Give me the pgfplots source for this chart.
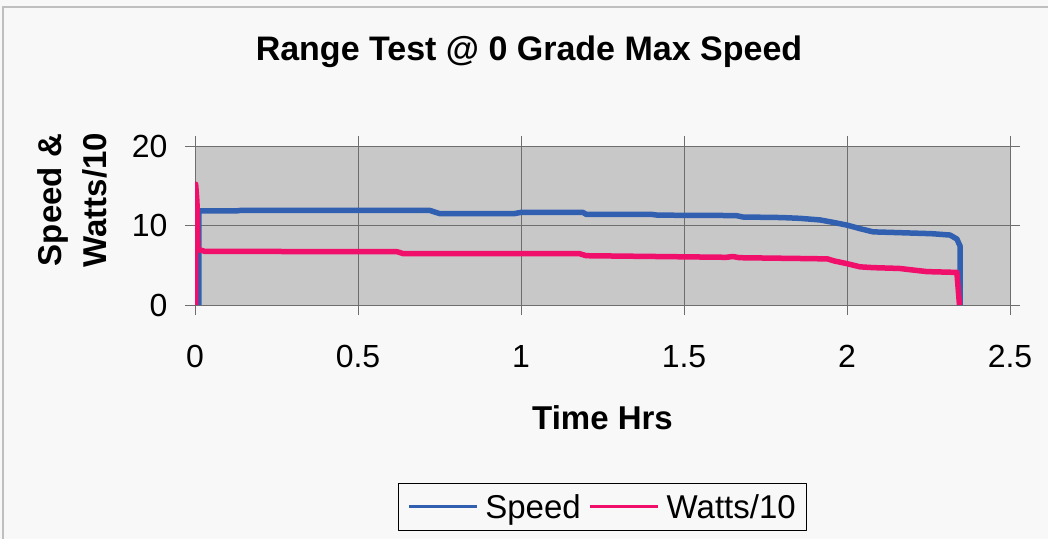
\documentclass[border=0pt]{standalone}
\usepackage{fontspec}
\setmainfont{Liberation Sans}
\usepackage{pgfplots}
\pgfplotsset{compat=1.18}
\definecolor{speedblue}{RGB}{50,96,176}
\definecolor{wattpink}{RGB}{240,16,108}
\definecolor{plotbg}{RGB}{200,200,200}
\definecolor{pagebg}{RGB}{248,248,248}
\definecolor{gridgray}{RGB}{110,110,110}
\begin{document}
\begin{tikzpicture}[x=1pt,y=1pt]
\useasboundingbox (0,0) rectangle (1048,539);
\fill[pagebg] (0,0) rectangle (1048,539);
\draw[gray!50, line width=1.5pt] (3,0) -- (3,532) -- (1048,532);
\node[font=\fontsize{34}{36}\selectfont\bfseries] at (529,487) {Range Test @ 0 Grade Max Speed};
\begin{axis}[
  at={(195pt,234pt)}, anchor=south west,
  scale only axis, width=815pt, height=159pt,
  xmin=0, xmax=2.5, ymin=0, ymax=20,
  xtick={0,0.5,1,1.5,2,2.5}, ytick={0,10,20},
  grid=major, major grid style={gridgray, line width=0.7pt},
  axis background/.style={fill=plotbg},
  axis line style={gridgray, line width=0.8pt},
  tick align=outside, major tick length=10pt,
  tick style={gridgray, line width=0.8pt},
  tick label style={font=\fontsize{32}{34}\selectfont},
  /pgf/number format/assume math mode=true,
  xticklabel style={yshift=-27pt},
  yticklabel style={xshift=-14pt},
  xlabel={Time Hrs},
  xlabel style={at={(axis description cs:0.5,-0.711)}, anchor=center, font=\fontsize{33}{36}\selectfont\bfseries},
  ylabel={Speed \&\\Watts/10},
  ylabel style={at={(axis description cs:-0.151,0.66)}, anchor=center, align=center, font=\fontsize{33}{45}\selectfont\bfseries},
  legend columns=2,
  legend style={at={(axis description cs:0.5,-1.27)}, anchor=center,
    draw=black, fill=pagebg, line width=0.6pt,
    font=\fontsize{33}{35}\selectfont,
    inner xsep=9pt, inner ysep=9pt,
    /tikz/every odd column/.append style={column sep=5pt},
    /tikz/every even column/.append style={column sep=6pt}},
  legend image code/.code={\draw[#1, line width=3pt] (0pt,0pt) -- (68pt,0pt);},
  line join=round,
]
\addplot[speedblue, line width=5.5pt] coordinates {
(0.012,0) (0.012,11.85) (0.13,11.85) (0.14,11.9) (0.72,11.9) (0.75,11.5)
(0.98,11.5) (1.0,11.65) (1.19,11.65) (1.2,11.4) (1.4,11.4) (1.42,11.3)
(1.66,11.25) (1.68,11.07) (1.8,11.0) (1.856,10.9) (1.917,10.7) (1.957,10.4)
(2.0,10.05) (2.04,9.6) (2.08,9.2) (2.16,9.1) (2.26,8.97) (2.316,8.8)
(2.337,8.3) (2.347,7.4) (2.347,0)
};
\addlegendentry{Speed}
\addplot[wattpink, line width=5.5pt] coordinates {
(0.002,0) (0.002,15.2) (0.006,13) (0.009,7.0) (0.03,6.75) (0.62,6.7)
(0.64,6.45) (1.18,6.45) (1.2,6.2) (1.63,6.0) (1.65,6.1) (1.67,5.95)
(1.856,5.85) (1.94,5.8) (1.96,5.55) (2.0,5.2) (2.04,4.8) (2.08,4.7)
(2.16,4.6) (2.245,4.2) (2.337,4.1) (2.345,0)
};
\addlegendentry{Watts/10}
\end{axis}
\end{tikzpicture}
\end{document}
